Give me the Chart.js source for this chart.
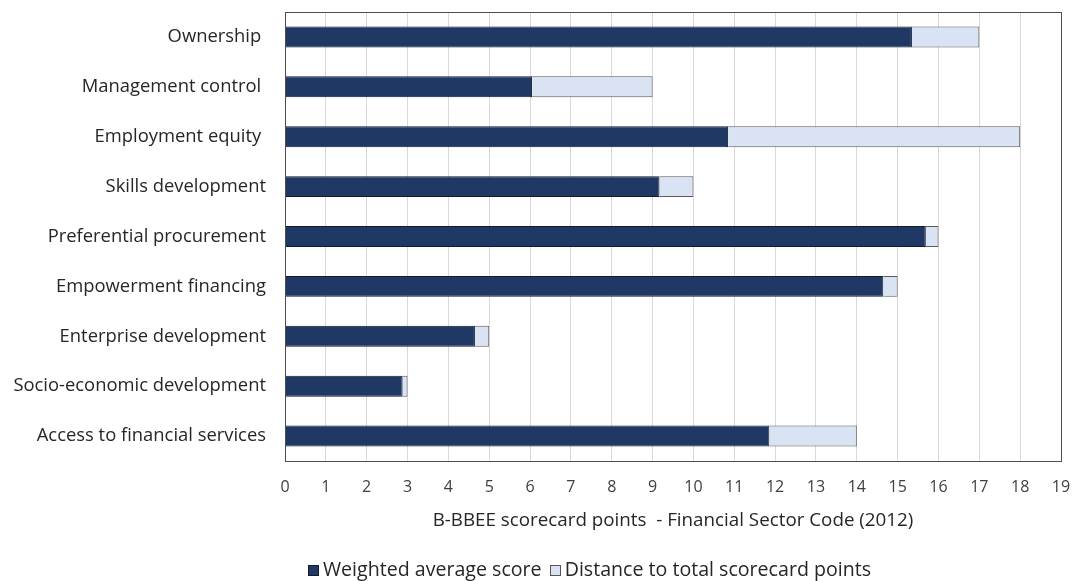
<!DOCTYPE html>
<html>
<head>
<meta charset="utf-8">
<script src="https://cdn.jsdelivr.net/npm/chart.js@4"></script>
<style>
  body { margin: 0; background: #fff; font-family: "Open Sans", sans-serif; }
  #wrap { position: relative; width: 1072px; height: 581px; }
  #legend { position: absolute; left: 308px; top: 556px; font-size: 19.6px; line-height: 26px; color: #262626; white-space: nowrap; }
  #legend span.box { display: inline-block; width: 11px; height: 11px; border: 1px solid #333; margin-right: 4px; vertical-align: 0px; box-sizing: border-box; }
</style>
</head>
<body>
<div id="wrap">
  <canvas id="myChart" width="1072" height="581"></canvas>
  <div id="legend">
    <span class="box" style="background:#1f3864;border-color:#111a2e"></span>Weighted average score
    <span class="box" style="background:#dae3f3;border-color:#555;margin-left:3px"></span>Distance to total scorecard points
  </div>
</div>
<script>
const categories = [
  "Ownership ",
  "Management control ",
  "Employment equity ",
  "Skills development",
  "Preferential procurement",
  "Empowerment financing",
  "Enterprise development",
  "Socio-economic development",
  "Access to financial services"
];
const weightedScore = [15.35, 6.05, 10.85, 9.17, 15.69, 14.65, 4.65, 2.88, 11.86];
const distanceToTotal = [1.65, 2.95, 7.15, 0.83, 0.31, 0.35, 0.35, 0.12, 2.14];
const xTicks = [0, 1, 2, 3, 4, 5, 6, 7, 8, 9, 10, 11, 12, 13, 14, 15, 16, 17, 18, 19];

const plotBorder = {
  id: "plotBorder",
  afterDatasetsDraw(chart) {
    const a = chart.chartArea;
    const ctx = chart.ctx;
    ctx.save();
    ctx.strokeStyle = "#4d4d4d";
    ctx.lineWidth = 1;
    ctx.strokeRect(Math.round(a.left) + 0.5, Math.round(a.top) + 0.5, Math.round(a.right - a.left), Math.round(a.bottom - a.top));
    ctx.restore();
  }
};

const ctx = document.getElementById("myChart").getContext("2d");
const myChart = new Chart(ctx, {
  type: "bar",
  data: {
    labels: categories,
    datasets: [
      {
        label: "Weighted average score",
        data: weightedScore,
        backgroundColor: "#1f3864",
        borderColor: "#111a2e",
        borderWidth: 1,
        categoryPercentage: 1,
        barPercentage: 0.42
      },
      {
        label: "Distance to total scorecard points",
        data: distanceToTotal,
        backgroundColor: "#dae3f3",
        borderColor: "#5a5a5a",
        borderWidth: 1,
        categoryPercentage: 1,
        barPercentage: 0.42
      }
    ]
  },
  options: {
    indexAxis: "y",
    responsive: false,
    animation: false,
    layout: { padding: { top: 12, right: 11, bottom: 48, left: 0 } },
    plugins: {
      legend: { display: false },
      tooltip: { enabled: false }
    },
    scales: {
      x: {
        stacked: true,
        min: 0,
        max: 19,
        afterBuildTicks: function (scale) {
          scale.ticks = xTicks.map(function (v) { return { value: v }; });
        },
        afterFit: function (scale) {
          scale.height = 72;
          scale.paddingLeft = 0;
          scale.paddingRight = 0;
        },
        grid: { color: "#d9d9d9", drawTicks: false },
        border: { display: false },
        ticks: {
          padding: 17,
          color: "#404040",
          font: { family: "Open Sans", size: 16 }
        },
        title: {
          display: true,
          text: "B-BBEE scorecard points  - Financial Sector Code (2012)",
          color: "#262626",
          font: { family: "Open Sans", size: 18.8 },
          padding: { top: 0, bottom: 1 }
        }
      },
      y: {
        stacked: true,
        afterFit: function (scale) {
          scale.width = 285;
          scale.paddingTop = 0;
          scale.paddingBottom = 0;
        },
        grid: { display: false, drawTicks: false },
        border: { display: false },
        ticks: {
          padding: 19,
          color: "#262626",
          font: { family: "Open Sans", size: 18.4 }
        }
      }
    }
  },
  plugins: [plotBorder]
});
</script>
</body>
</html>
